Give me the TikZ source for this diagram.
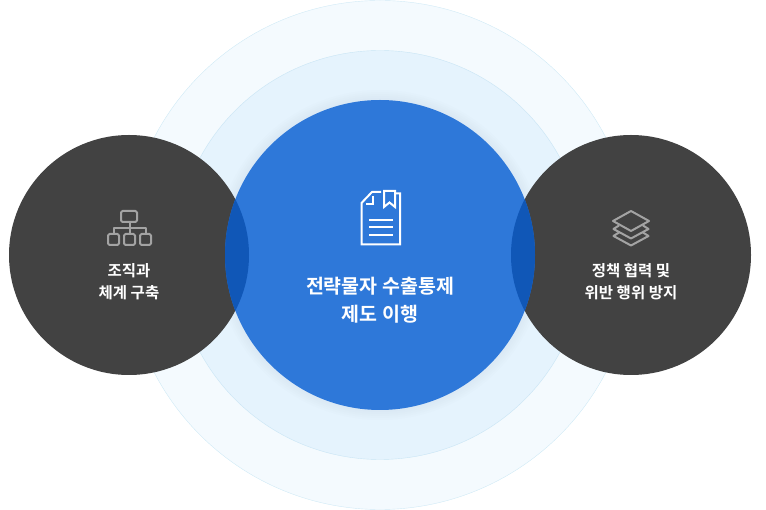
\documentclass[tikz,border=0pt]{standalone}
\usepackage{fontspec}
\setmainfont{Noto Sans CJK KR}[BoldFont={Noto Sans CJK KR Bold}]
\definecolor{ringout}{HTML}{F4FAFE}
\definecolor{ringoutline}{HTML}{D0EAF6}
\definecolor{ringmid}{HTML}{E5F3FD}
\definecolor{ringmidline}{HTML}{C9E5F5}
\definecolor{mainblue}{HTML}{2E78D9}
\definecolor{darkgrey}{HTML}{424242}
\definecolor{lensblue}{HTML}{1057B7}
\definecolor{icongrey}{HTML}{A3A3A3}
\definecolor{softedge}{HTML}{6F9DB8}
\begin{document}
\begin{tikzpicture}[x=1pt,y=-1pt,
  disc/.style={circle,inner sep=0pt,outer sep=0pt},
  label node/.style={align=center,text=white},
  icon/.style={draw=icongrey,line width=2pt,line join=round},
  docicon/.style={draw=white,line width=2pt,line join=miter}]

  \useasboundingbox (0,0) rectangle (766,510);

  \node[disc,draw=ringoutline,fill=ringout,minimum size=509pt] (outer) at (380,255) {};
  \node[disc,draw=ringmidline,fill=ringmid,minimum size=409pt] (middle) at (380,255) {};

  % soft edge round the blue disc
  \foreach \r in {165,163,161,159,157}
    \fill[softedge,opacity=.016] (380,255) circle (\r);

  \node[disc,fill=darkgrey,minimum size=240pt] (left) at (129,255) {};
  \node[disc,fill=darkgrey,minimum size=240pt] (right) at (631,255) {};
  \node[disc,fill=mainblue,minimum size=310pt] (centre) at (380,255) {};

  % overlaps
  \begin{scope}
    \clip (380,255) circle (155);
    \fill[lensblue] (129,255) circle (120);
    \fill[lensblue] (631,255) circle (120);
  \end{scope}

  \node[label node,font=\bfseries\fontsize{19.5}{28}\selectfont] (centretext) at (380,300) {전략물자 수출통제\\제도 이행};
  \node[label node,font=\bfseries\fontsize{15.5}{22}\selectfont] (lefttext) at (129,282) {조직과\\체계 구축};
  \node[label node,font=\bfseries\fontsize{15.5}{22}\selectfont] (righttext) at (631,282) {정책 협력 및\\위반 행위 방지};

  % document
  \draw[docicon] (381,192) -- (372,192) -- (361.5,203) -- (361.5,244.5) -- (400,244.5) -- (400,193.5) -- (396,193.5);
  \draw[docicon] (384,191) -- (395,191) -- (395,207) -- (389.5,202.5) -- (384,207) -- cycle;
  \draw[docicon] (373,196) -- (373,204) -- (366,204);
  \draw[docicon] (369,220) -- (393,220) (369,227.5) -- (393,227.5) (369,235) -- (393,235);

  % chart
  \draw[icon,rounded corners=1.5pt] (121,211) rectangle (137,222);
  \draw[icon,rounded corners=1.5pt] (108,234) rectangle (119,245);
  \draw[icon,rounded corners=1.5pt] (124,234) rectangle (135,245);
  \draw[icon,rounded corners=1.5pt] (140,234) rectangle (151,245);
  \draw[icon] (129.5,222) -- (129.5,234) (113.5,234) -- (113.5,228) -- (145.5,228) -- (145.5,234);

  % layers
  \draw[icon] (619,232.5) -- (613.5,236) -- (631,245.5) -- (648.5,236) -- (643,232.5);
  \draw[icon] (619,225.5) -- (613.5,229) -- (631,238.5) -- (648.5,229) -- (643,225.5);
  \draw[icon] (631,211) -- (649,221) -- (631,231) -- (613,221) -- cycle;
\end{tikzpicture}
\end{document}
